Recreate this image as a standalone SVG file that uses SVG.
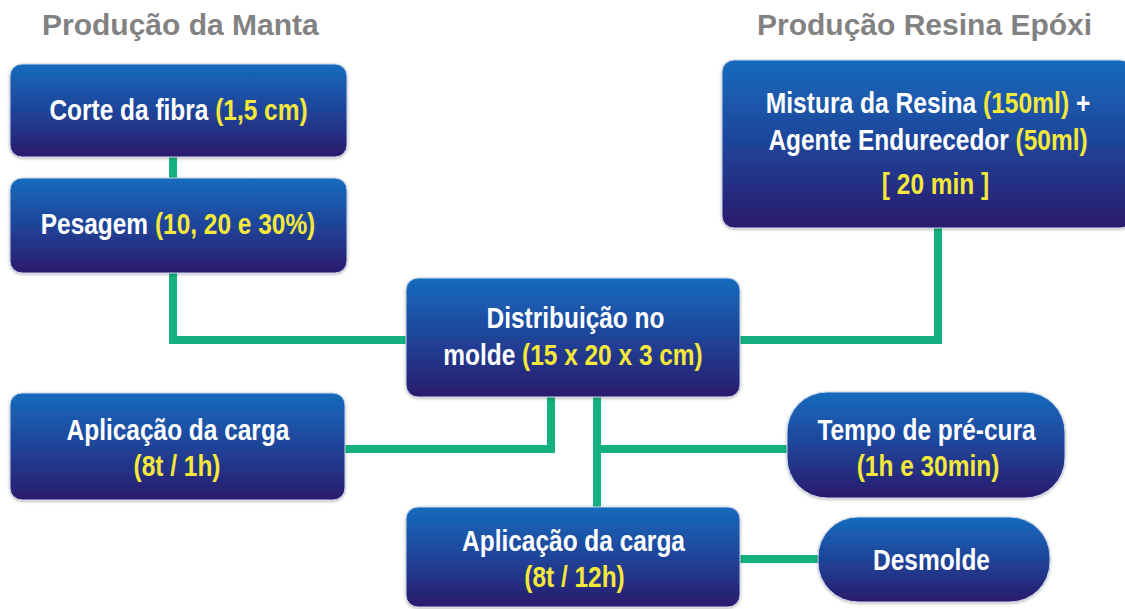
<svg xmlns="http://www.w3.org/2000/svg" width="1125" height="609" viewBox="0 0 1125 609">
<defs>
<linearGradient id="g" x1="0" y1="0" x2="0" y2="1">
<stop offset="0" stop-color="#176bbd"/>
<stop offset="0.5" stop-color="#1f4499"/>
<stop offset="1" stop-color="#2b1a6c"/>
</linearGradient>
<filter id="sh" x="-5%" y="-5%" width="110%" height="115%">
<feDropShadow dx="0" dy="1" stdDeviation="1.5" flood-color="#000" flood-opacity="0.3"/>
</filter>
</defs>
<style>
.box{fill:url(#g);stroke:#c9d6ee;stroke-width:1;filter:url(#sh)}
.t{font-family:"Liberation Sans",Arial,sans-serif;font-weight:bold;font-size:30px;fill:#ffffff;text-anchor:middle}
.y{fill:#f4e83a}
.title{font-family:"Liberation Sans",Arial,sans-serif;font-weight:bold;font-size:30px;fill:#828282}
.c{fill:none;stroke:#14b07f;stroke-width:8}
</style>
<rect width="1125" height="609" fill="#ffffff"/>
<text class="title" x="42" y="35">Produção da Manta</text>
<text class="title" x="757" y="35">Produção Resina Epóxi</text>
<g id="connectors">
<path class="c" d="M173 155 V180"/>
<path class="c" d="M173 270 V340 H410"/>
<path class="c" d="M736 340 H938 V225"/>
<path class="c" d="M342 449 H551 V394"/>
<path class="c" d="M597 394 V510"/>
<path class="c" d="M597 449 H790"/>
<path class="c" d="M738 559 H822"/>
</g>
<g id="n1">
<rect class="box" x="10" y="64" width="337" height="93" rx="12"/>
<text class="t" transform="translate(178.5 120) scale(0.815 1)">Corte da fibra <tspan class="y">(1,5 cm)</tspan></text>
</g>
<g id="n2">
<rect class="box" x="10" y="178" width="337" height="95" rx="12"/>
<text class="t" transform="translate(178 234) scale(0.815 1)">Pesagem <tspan class="y">(10, 20 e 30%)</tspan></text>
</g>
<g id="n3">
<rect class="box" x="722" y="60" width="410" height="168" rx="12"/>
<text class="t" transform="translate(928 113) scale(0.82 1)">Mistura da Resina <tspan class="y">(150ml)</tspan> +</text>
<text class="t" transform="translate(928 150) scale(0.815 1)">Agente Endurecedor <tspan class="y">(50ml)</tspan></text>
<text class="t y" transform="translate(935.5 194) scale(0.815 1)">[ 20 min ]</text>
</g>
<g id="n4">
<rect class="box" x="406" y="278" width="334" height="119" rx="12"/>
<text class="t" transform="translate(575.5 328) scale(0.815 1)">Distribuição no</text>
<text class="t" transform="translate(573 365) scale(0.815 1)">molde <tspan class="y">(15 x 20 x 3 cm)</tspan></text>
</g>
<g id="n5">
<rect class="box" x="10" y="393" width="335" height="107" rx="12"/>
<text class="t" transform="translate(178 440) scale(0.815 1)">Aplicação da carga</text>
<text class="t y" transform="translate(177 476) scale(0.815 1)">(8t / 1h)</text>
</g>
<g id="n6">
<rect class="box" x="787" y="392" width="278" height="106" rx="40"/>
<text class="t" transform="translate(926.5 440) scale(0.815 1)">Tempo de pré-cura</text>
<text class="t y" transform="translate(928 476) scale(0.815 1)">(1h e 30min)</text>
</g>
<g id="n7">
<rect class="box" x="406" y="507" width="334" height="100" rx="12"/>
<text class="t" transform="translate(573.5 551) scale(0.815 1)">Aplicação da carga</text>
<text class="t y" transform="translate(574.5 587) scale(0.815 1)">(8t / 12h)</text>
</g>
<g id="n8">
<rect class="box" x="818" y="517" width="232" height="85" rx="40"/>
<text class="t" transform="translate(931.5 570) scale(0.815 1)">Desmolde</text>
</g>
</svg>
